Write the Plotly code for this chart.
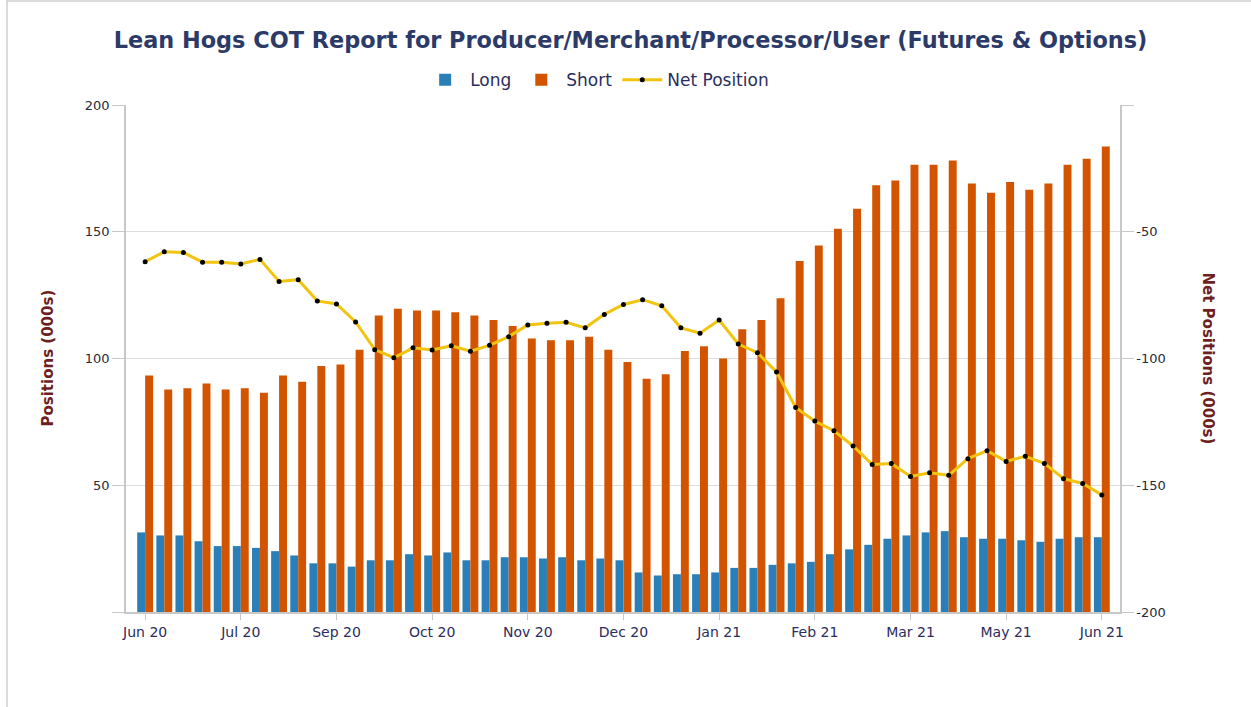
import plotly.graph_objects as go

# ---- data (thousands of contracts), weekly reports Jun 2020 - Jun 2021 ----
long_pos = [31.4, 30.2, 30.2, 27.9, 26.0, 26.0, 25.3, 24.0, 22.3, 19.2,
            19.2, 17.9, 20.4, 20.4, 22.8, 22.3, 23.5, 20.4, 20.4, 21.6,
            21.6, 21.1, 21.6, 20.4, 21.1, 20.4, 15.6, 14.4, 14.9, 14.9,
            15.6, 17.4, 17.4, 18.6, 19.2, 19.8, 22.8, 24.7, 26.5, 28.9,
            30.2, 31.4, 31.9, 29.5, 28.9, 28.9, 28.3, 27.7, 28.9, 29.5,
            29.5]
short_pos = [93.3, 87.8, 88.3, 90.1, 87.8, 88.3, 86.5, 93.3, 90.8, 97.0,
             97.6, 103.5, 117.0, 119.6, 118.9, 118.9, 118.2, 117.0, 115.2, 112.8,
             107.9, 107.2, 107.2, 108.6, 103.5, 98.6, 92.0, 93.8, 103.0, 104.8,
             100.0, 111.5, 115.2, 123.8, 138.5, 144.6, 151.2, 159.1, 168.3, 170.2,
             176.4, 176.4, 178.1, 169.0, 165.4, 169.6, 166.6, 169.0, 176.4, 178.8,
             183.6]
net_pos = [-61.8, -57.9, -58.2, -62.0, -62.0, -62.7, -60.9, -69.6, -68.9, -77.3,
           -78.5, -85.6, -96.5, -99.7, -95.8, -96.6, -95.0, -97.1, -94.8, -91.4,
           -86.8, -86.1, -85.7, -87.9, -82.6, -78.7, -76.8, -79.2, -87.9, -90.0,
           -84.8, -94.3, -97.7, -105.3, -119.3, -124.7, -128.5, -134.5, -141.8, -141.4,
           -146.5, -145.1, -146.1, -139.5, -136.4, -140.6, -138.6, -141.4, -147.4, -149.3,
           -153.8]
x_index = list(range(len(long_pos)))
tick_positions = [0, 5, 10, 15, 20, 25, 30, 35, 40, 45, 50]
tick_labels = ["Jun 20", "Jul 20", "Sep 20", "Oct 20", "Nov 20", "Dec 20",
               "Jan 21", "Feb 21", "Mar 21", "May 21", "Jun 21"]
left_ticks = [0, 50, 100, 150, 200]
left_tick_text = ["", "50", "100", "150", "200"]
right_ticks = [-200, -150, -100, -50, 0]
right_tick_text = ["-200", "-150", "-100", "-50", ""]

FONT = "DejaVu Sans"
NAVY = "#2b2d5c"
RED = "#6e1f1f"

fig = go.Figure()
fig.add_trace(go.Bar(x=x_index, y=long_pos, name="Long",
                     marker=dict(color="#2a7fb8", line=dict(width=0))))
fig.add_trace(go.Bar(x=x_index, y=short_pos, name="Short",
                     marker=dict(color="#d35400", line=dict(width=0))))
fig.add_trace(go.Scatter(x=x_index, y=net_pos, name="Net Position", yaxis="y2",
                         mode="lines+markers",
                         line=dict(color="#f1c40f", width=3),
                         marker=dict(color="#000000", size=5)))

fig.update_layout(
    width=1251, height=707,
    paper_bgcolor="white", plot_bgcolor="white",
    margin=dict(l=126, r=131, t=105, b=95),
    barmode="group", bargap=0.17, bargroupgap=0,
    font=dict(family=FONT, color=NAVY, size=13),
    title=dict(text="<b>Lean Hogs COT Report for Producer/Merchant/Processor/User (Futures &amp; Options)</b>",
               x=0.504, xref="container", xanchor="center",
               y=1 - 40 / 707, yref="container", yanchor="middle",
               font=dict(family=FONT, size=22.4, color="#2c3a68")),
    showlegend=True,
    legend=dict(orientation="h", x=0.474, xanchor="center", y=1.049, yanchor="middle",
                font=dict(family=FONT, size=17, color=NAVY), itemwidth=40,
                bgcolor="rgba(0,0,0,0)"),
    xaxis=dict(range=[-1.0, 50.95], tickmode="array", tickvals=tick_positions,
               ticktext=tick_labels, ticks="outside", ticklen=6, tickcolor="#c8c8c8",
               showline=True, linecolor="#c8c8c8", linewidth=1.5, showgrid=False,
               zeroline=False, tickfont=dict(size=14, color=NAVY)),
    yaxis=dict(range=[0, 200], tickmode="array", tickvals=left_ticks, ticktext=left_tick_text,
               ticks="outside", ticklen=12, tickcolor="#c8c8c8",
               showline=True, linecolor="#c8c8c8", linewidth=1.5,
               showgrid=True, gridcolor="#dddddd", gridwidth=1, zeroline=False,
               tickfont=dict(size=13, color="#2a2a3a")),
    yaxis2=dict(range=[-200, 0], overlaying="y", side="right", tickmode="array",
                tickvals=right_ticks, ticktext=right_tick_text,
                ticks="outside", ticklen=12, tickcolor="#c8c8c8",
                showline=True, linecolor="#c8c8c8", linewidth=1.5,
                showgrid=False, zeroline=False,
                tickfont=dict(size=13, color="#2a2a3a")),
)

fig.add_annotation(text="<b>Positions (000s)</b>", textangle=-90,
                   xref="paper", yref="paper", x=(47 - 126) / 994, y=0.5,
                   xanchor="center", yanchor="middle", showarrow=False,
                   font=dict(family=FONT, size=15, color=RED))
fig.add_annotation(text="<b>Net Positions (000s)</b>", textangle=90,
                   xref="paper", yref="paper", x=(1208 - 126) / 994, y=0.5,
                   xanchor="center", yanchor="middle", showarrow=False,
                   font=dict(family=FONT, size=15, color=RED))

# outer container border (left and top edges)
fig.add_shape(type="line", xref="paper", yref="paper",
              x0=(7 - 126) / 994, x1=(7 - 126) / 994, y0=(612 - 707) / 507, y1=612 / 507,
              line=dict(color="#d0d0d0", width=1.5))
fig.add_shape(type="line", xref="paper", yref="paper",
              x0=(7 - 126) / 994, x1=(1251 - 126) / 994, y0=(612 - 1) / 507, y1=(612 - 1) / 507,
              line=dict(color="#d0d0d0", width=1.5))

fig.write_html("out.html", config={"displayModeBar": False},
               post_script="document.body.style.margin='0';")
